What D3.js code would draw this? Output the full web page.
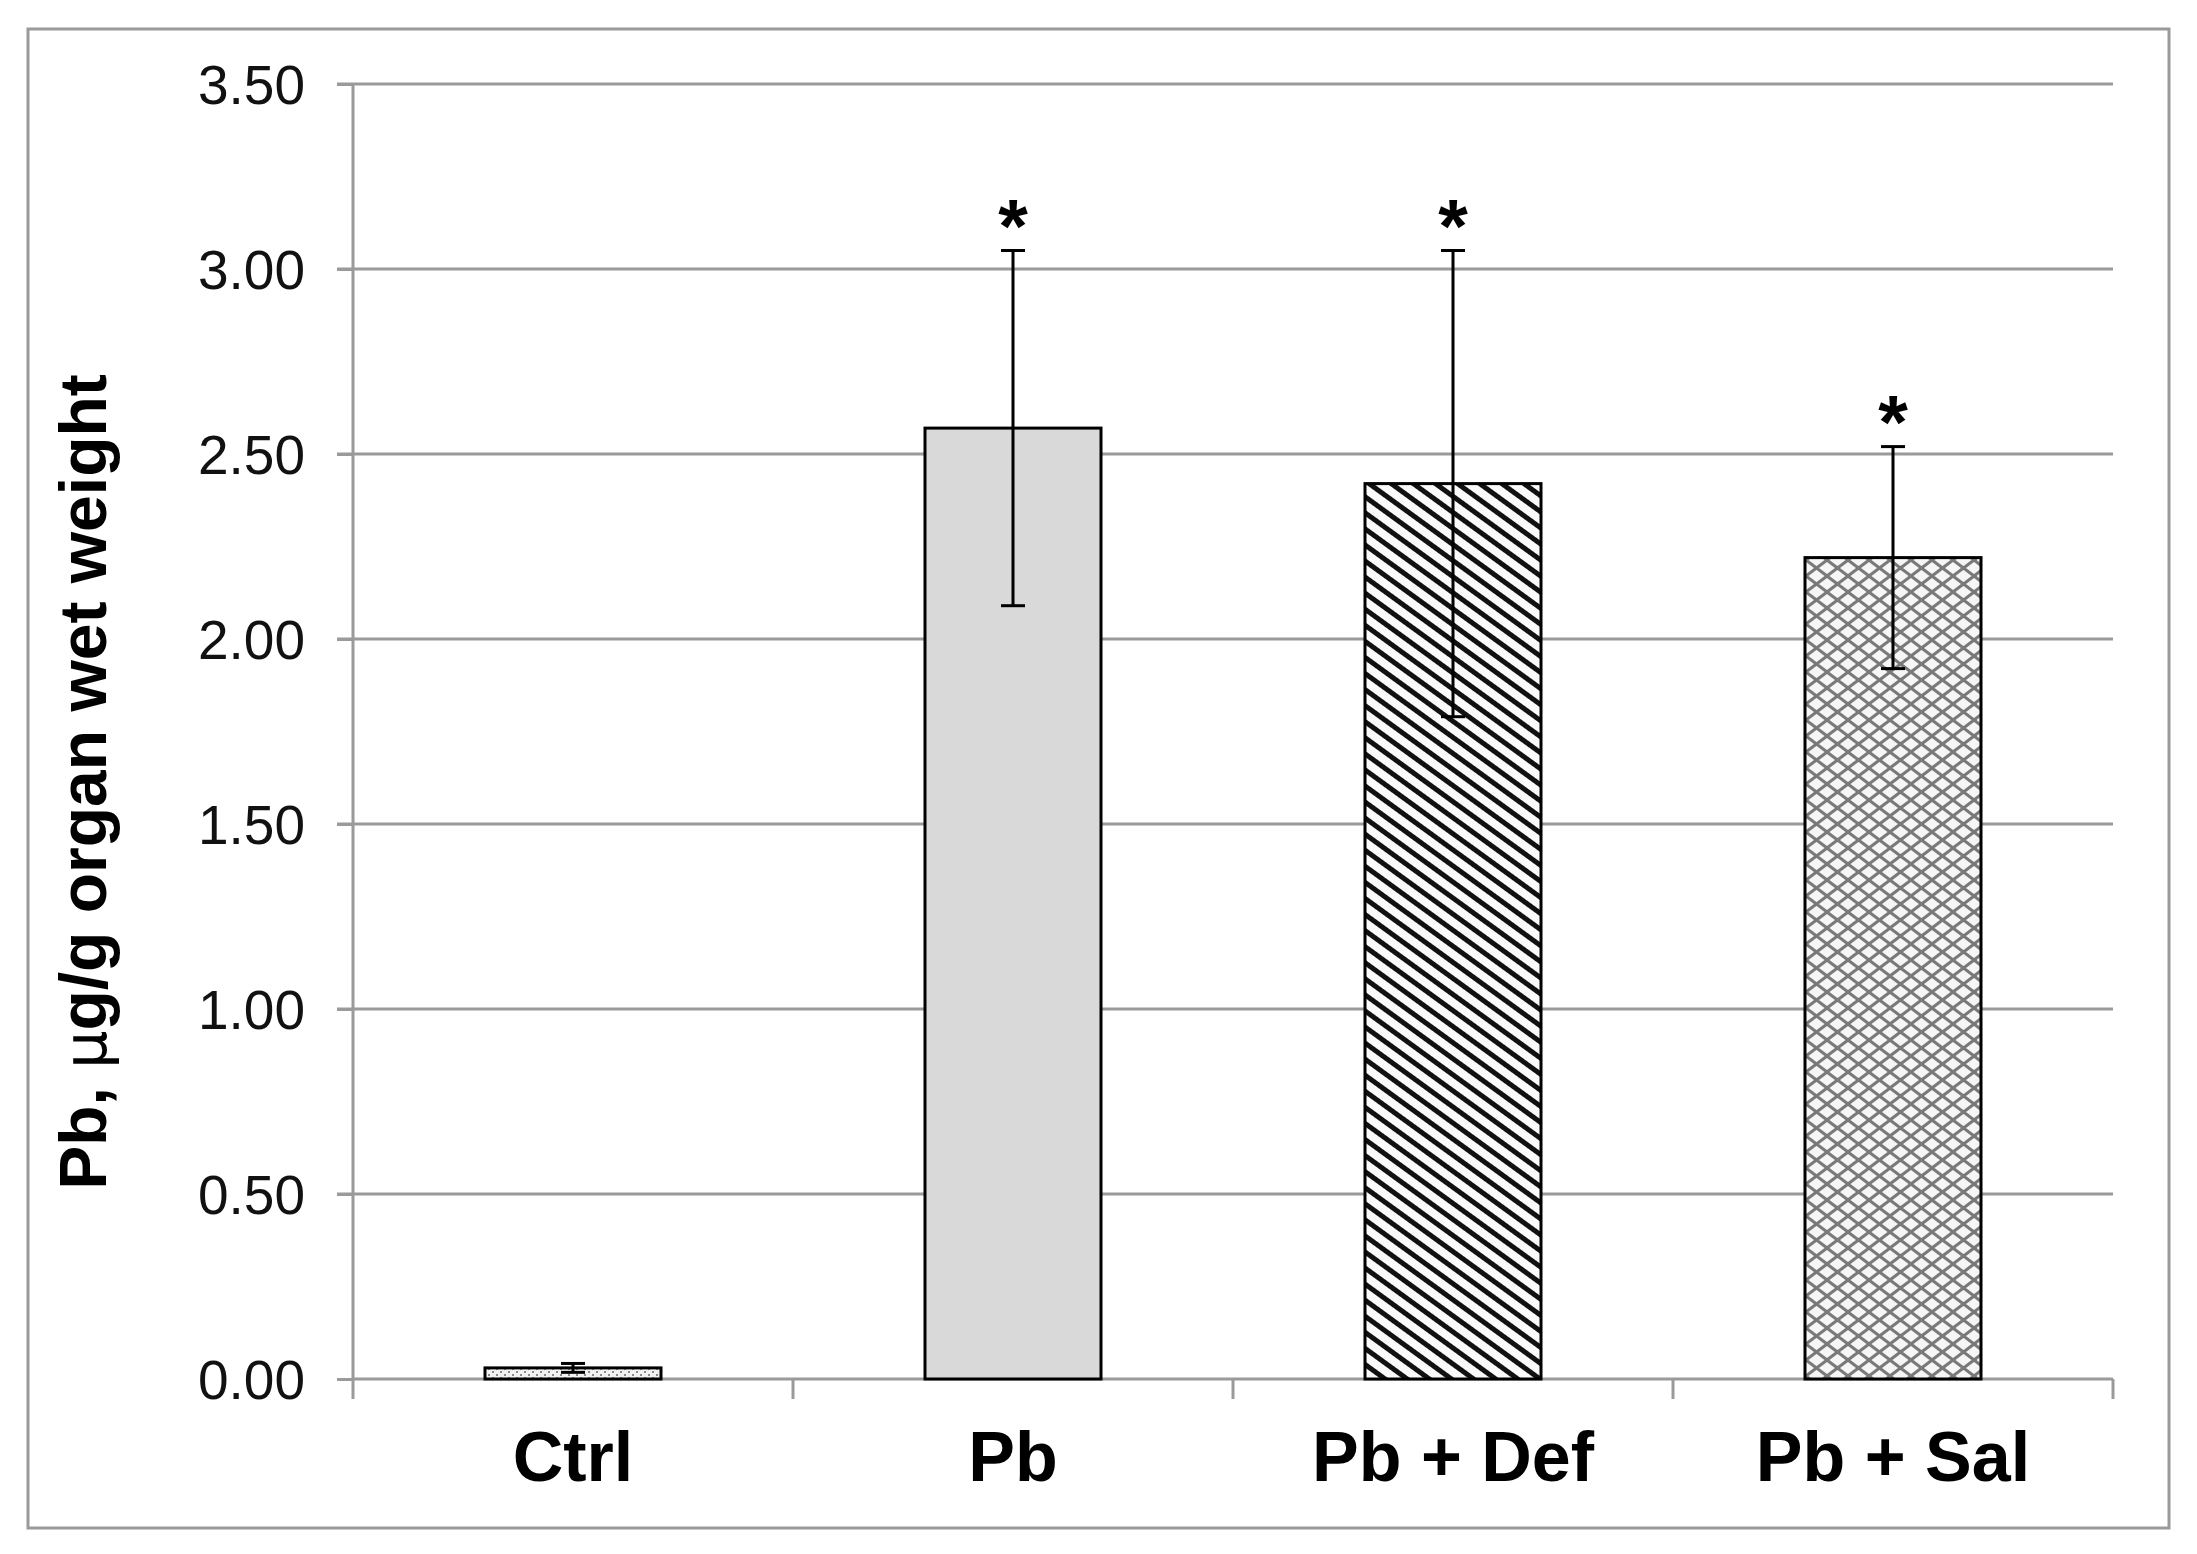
<!DOCTYPE html>
<html>
<head>
<meta charset="utf-8">
<script src="https://cdn.jsdelivr.net/npm/d3@7"></script>
<style>
  html, body { margin: 0; padding: 0; background: #fff; }
  svg { display: block; font-family: "Liberation Sans", Arial, sans-serif; }
</style>
</head>
<body>
<svg id="chart" width="2197" height="1554"></svg>
<script>
// ---- data ----
const categories = ["Ctrl", "Pb", "Pb + Def", "Pb + Sal"];
const means = [0.03, 2.57, 2.42, 2.22];
const errors = [0.012, 0.48, 0.63, 0.30];
const significant = [false, true, true, true];
const patterns = ["dots", "solid", "stripes", "cross"];
const yTicks = [0, 0.5, 1.0, 1.5, 2.0, 2.5, 3.0, 3.5];

const svg = d3.select("#chart");
const plot = { left: 353, right: 2113, top: 84, bottom: 1379 };

// outer frame
svg.append("rect").attr("x", 28).attr("y", 29).attr("width", 2141).attr("height", 1499)
  .attr("fill", "#fff").attr("stroke", "#9a9a9a").attr("stroke-width", 3);

// patterns
const defs = svg.append("defs");
const pDots = defs.append("pattern").attr("id", "p-dots").attr("patternUnits", "userSpaceOnUse")
  .attr("width", 8).attr("height", 6);
pDots.append("rect").attr("width", 8).attr("height", 6).attr("fill", "#f2f2f2");
pDots.append("rect").attr("x", 0).attr("y", 0).attr("width", 2).attr("height", 2).attr("fill", "#8a8a8a");
pDots.append("rect").attr("x", 4).attr("y", 3).attr("width", 2).attr("height", 2).attr("fill", "#8a8a8a");

const pStripes = defs.append("pattern").attr("id", "p-stripes").attr("patternUnits", "userSpaceOnUse")
  .attr("width", 40).attr("height", 13).attr("patternTransform", "rotate(36)");
pStripes.append("rect").attr("width", 40).attr("height", 13).attr("fill", "#fafafa");
pStripes.append("rect").attr("x", 0).attr("y", 0).attr("width", 40).attr("height", 5).attr("fill", "#111");

const pCross = defs.append("pattern").attr("id", "p-cross").attr("patternUnits", "userSpaceOnUse")
  .attr("width", 21).attr("height", 16);
pCross.append("rect").attr("width", 21).attr("height", 16).attr("fill", "#f6f6f6");
pCross.append("path").attr("d", "M-10.5,-8 L31.5,24 M-10.5,8 L10.5,24 M10.5,-8 L31.5,8 M31.5,-8 L-10.5,24 M10.5,-8 L-10.5,8 M31.5,8 L10.5,24")
  .attr("stroke", "#7a7a7a").attr("stroke-width", 3).attr("fill", "none");

const fillFor = { dots: "url(#p-dots)", solid: "#d9d9d9", stripes: "url(#p-stripes)", cross: "url(#p-cross)" };

// scales
const y = d3.scaleLinear().domain([0, 3.5]).range([plot.bottom, plot.top]);
const x = d3.scaleBand().domain(categories).range([plot.left, plot.right])
  .paddingInner(0.6).paddingOuter(0.3);

// gridlines
svg.append("g").selectAll("line").data(yTicks.filter(d => d > 0)).join("line")
  .attr("x1", plot.left - 16).attr("x2", plot.right)
  .attr("y1", d => y(d)).attr("y2", d => y(d))
  .attr("stroke", "#9a9a9a").attr("stroke-width", 3);

// y axis
const yAxis = svg.append("g").attr("transform", `translate(${plot.left},0)`)
  .call(d3.axisLeft(y).tickValues(yTicks).tickFormat(d3.format(".2f")).tickSize(16).tickPadding(32));
yAxis.select(".domain").remove();
yAxis.selectAll(".tick line").attr("stroke", "#9a9a9a").attr("stroke-width", 3);
yAxis.selectAll(".tick text").attr("font-size", 55).attr("fill", "#111")
  .attr("font-family", "Liberation Sans, Arial, sans-serif").attr("dy", "0.36em");
svg.append("line").attr("x1", plot.left).attr("x2", plot.left)
  .attr("y1", plot.top).attr("y2", plot.bottom + 20)
  .attr("stroke", "#9a9a9a").attr("stroke-width", 3);

// x axis line + boundary ticks
svg.append("line").attr("x1", plot.left).attr("x2", plot.right)
  .attr("y1", plot.bottom).attr("y2", plot.bottom)
  .attr("stroke", "#9a9a9a").attr("stroke-width", 3);
const boundaries = categories.map(c => x(c) - x.step() * x.paddingInner() / 2).concat([plot.right]);
svg.append("g").selectAll("line").data(boundaries.slice(1)).join("line")
  .attr("x1", d => d).attr("x2", d => d)
  .attr("y1", plot.bottom).attr("y2", plot.bottom + 20)
  .attr("stroke", "#9a9a9a").attr("stroke-width", 3);

// category labels
svg.append("g").selectAll("text").data(categories).join("text")
  .attr("x", d => x(d) + x.bandwidth() / 2).attr("y", 1481)
  .attr("text-anchor", "middle").attr("font-size", 70).attr("font-weight", "bold")
  .attr("fill", "#000").text(d => d);

// bars
const data = categories.map((c, i) => ({ c, m: means[i], e: errors[i], s: significant[i], p: patterns[i] }));
svg.append("g").selectAll("rect").data(data).join("rect")
  .attr("x", d => x(d.c)).attr("width", x.bandwidth())
  .attr("y", d => y(d.m)).attr("height", d => y(0) - y(d.m))
  .attr("fill", d => fillFor[d.p]).attr("stroke", "#000").attr("stroke-width", 3);

// error bars
const eg = svg.append("g").attr("stroke", "#000").attr("stroke-width", 3);
data.forEach(d => {
  const cx = x(d.c) + x.bandwidth() / 2;
  eg.append("line").attr("x1", cx).attr("x2", cx).attr("y1", y(d.m + d.e)).attr("y2", y(d.m - d.e));
  eg.append("line").attr("x1", cx - 12).attr("x2", cx + 12).attr("y1", y(d.m + d.e)).attr("y2", y(d.m + d.e));
  eg.append("line").attr("x1", cx - 12).attr("x2", cx + 12).attr("y1", y(d.m - d.e)).attr("y2", y(d.m - d.e));
});

// significance asterisks
svg.append("g").selectAll("text").data(data.filter(d => d.s)).join("text")
  .attr("x", d => x(d.c) + x.bandwidth() / 2).attr("y", d => y(d.m + d.e) + 1)
  .attr("text-anchor", "middle").attr("font-size", 76).attr("font-weight", "bold")
  .text("*");

// y axis title
const yt = svg.append("text").attr("transform", "translate(106,782) rotate(-90)")
  .attr("text-anchor", "middle").attr("font-size", 66).attr("font-weight", "bold").attr("fill", "#000");
yt.append("tspan").text("Pb, ");
yt.append("tspan").attr("font-weight", "normal").attr("font-family", "DejaVu Sans, sans-serif").attr("font-size", 60).text("μ");
yt.append("tspan").text("g/g organ wet weight");
</script>
</body>
</html>
